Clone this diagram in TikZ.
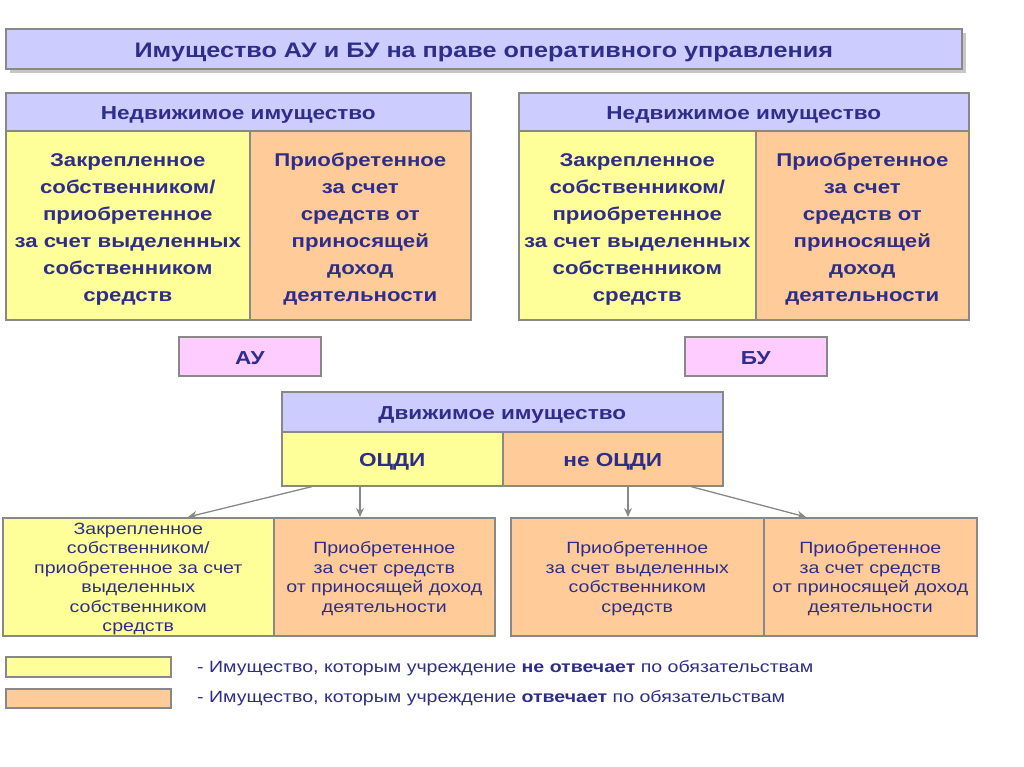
\documentclass[tikz,border=0pt]{standalone}
\usepackage{fontspec}
\setmainfont[FakeStretch=1.2]{Liberation Sans}
\usetikzlibrary{calc,arrows.meta}

\definecolor{navy}{RGB}{46,46,138}
\definecolor{boxgray}{RGB}{136,136,136}
\definecolor{lavender}{RGB}{204,204,255}
\definecolor{lightyellow}{RGB}{255,255,153}
\definecolor{lightorange}{RGB}{255,204,153}
\definecolor{pinkbox}{RGB}{255,204,255}

\newcommand{\bigtop}{\rule{0pt}{22pt}}
\newcommand{\smalltop}{\rule{0pt}{16pt}}

\tikzset{
  cell/.style={draw=boxgray, line width=1.6pt, inner sep=0pt, align=center,
    text=navy, anchor=north west},
  headcell/.style={cell, fill=lavender, font=\fontsize{18.8}{22}\selectfont\bfseries,
    text height=16pt, text depth=0pt},
  bigcell/.style={cell, font=\fontsize{18.5}{27}\selectfont\bfseries},
  smallcell/.style={cell, font=\fontsize{16.3}{19.5}\selectfont},
  legtext/.style={anchor=west, text=navy, font=\fontsize{16.3}{20}\selectfont, inner sep=0pt},
  arr/.style={draw=boxgray, line width=1.3pt, -{Stealth[length=9pt,width=8pt]}}
}

\begin{document}
\begin{tikzpicture}[x=1pt,y=-1pt]
\useasboundingbox (0,0) rectangle (1024,767);

% title with shadow
\fill[black!22] (10,33) rectangle (966,73);
\node[headcell, minimum width=956, minimum height=40, text height=17.5pt,
  font=\fontsize{21}{24}\selectfont\bfseries] (title) at (5,28)
  {Имущество АУ и БУ на праве оперативного управления};

% immovable property, left (AU)
\node[headcell, minimum width=465, minimum height=38] (nedvL) at (5,92) {Недвижимое имущество};
\node[bigcell, fill=lightyellow, minimum width=244, minimum height=189] (zakrL) at (5,130)
  {\bigtop Закрепленное\\собственником/\\приобретенное\\за счет выделенных\\собственником\\средств};
\node[bigcell, fill=lightorange, minimum width=221, minimum height=189] (priobL) at (249,130)
  {\bigtop Приобретенное\\за счет\\средств от\\приносящей\\доход\\деятельности};

% immovable property, right (BU)
\node[headcell, minimum width=450, minimum height=38] (nedvR) at (518,92) {Недвижимое имущество};
\node[bigcell, fill=lightyellow, minimum width=237, minimum height=189] (zakrR) at (518,130)
  {\bigtop Закрепленное\\собственником/\\приобретенное\\за счет выделенных\\собственником\\средств};
\node[bigcell, fill=lightorange, minimum width=213, minimum height=189] (priobR) at (755,130)
  {\bigtop Приобретенное\\за счет\\средств от\\приносящей\\доход\\деятельности};

% AU / BU labels
\node[headcell, fill=pinkbox, minimum width=142, minimum height=39] (au) at (178,336) {АУ};
\node[headcell, fill=pinkbox, minimum width=142, minimum height=39] (bu) at (684,336) {БУ};

% movable property
\node[headcell, minimum width=441, minimum height=40] (dvizh) at (281,391) {Движимое имущество};
\node[headcell, fill=lightyellow, minimum width=221, minimum height=54] (ocdi) at (281,431) {ОЦДИ};
\node[headcell, fill=lightorange, minimum width=220, minimum height=54] (neocdi) at (502,431) {не ОЦДИ};

% bottom row
\node[smallcell, fill=lightyellow, minimum width=271, minimum height=118] (zakrB) at (2,517)
  {\smalltop Закрепленное\\собственником/\\приобретенное за счет\\выделенных\\собственником\\средств};
\node[smallcell, fill=lightorange, minimum width=221, minimum height=118] (priobB) at (273,517)
  {\smalltop Приобретенное\\за счет средств\\от приносящей доход\\деятельности};
\node[smallcell, fill=lightorange, minimum width=253, minimum height=118] (vydelB) at (510,517)
  {\smalltop Приобретенное\\за счет выделенных\\собственником\\средств};
\node[smallcell, fill=lightorange, minimum width=213, minimum height=118] (dohodB) at (763,517)
  {\smalltop Приобретенное\\за счет средств\\от приносящей доход\\деятельности};

% arrows
\draw[arr] ($(ocdi.south west)+(31,0)$) -- ($(zakrB.north west)+(186,0)$);
\draw[arr] ($(ocdi.south west)+(79,0)$) -- ($(priobB.north west)+(87,0)$);
\draw[arr] ($(neocdi.south west)+(126,0)$) -- ($(vydelB.north west)+(118,0)$);
\draw[arr] ($(neocdi.south west)+(189,0)$) -- ($(dohodB.north west)+(43,0)$);

% legend
\node[cell, fill=lightyellow, minimum width=165, minimum height=20] (legY) at (5,656) {};
\node[cell, fill=lightorange, minimum width=165, minimum height=19] (legO) at (5,688) {};
\node[legtext] (legYt) at (197,668)
  {- Имущество, которым учреждение \textbf{не отвечает} по обязательствам};
\node[legtext] (legOt) at (197,698)
  {- Имущество, которым учреждение \textbf{отвечает} по обязательствам};

\end{tikzpicture}
\end{document}
